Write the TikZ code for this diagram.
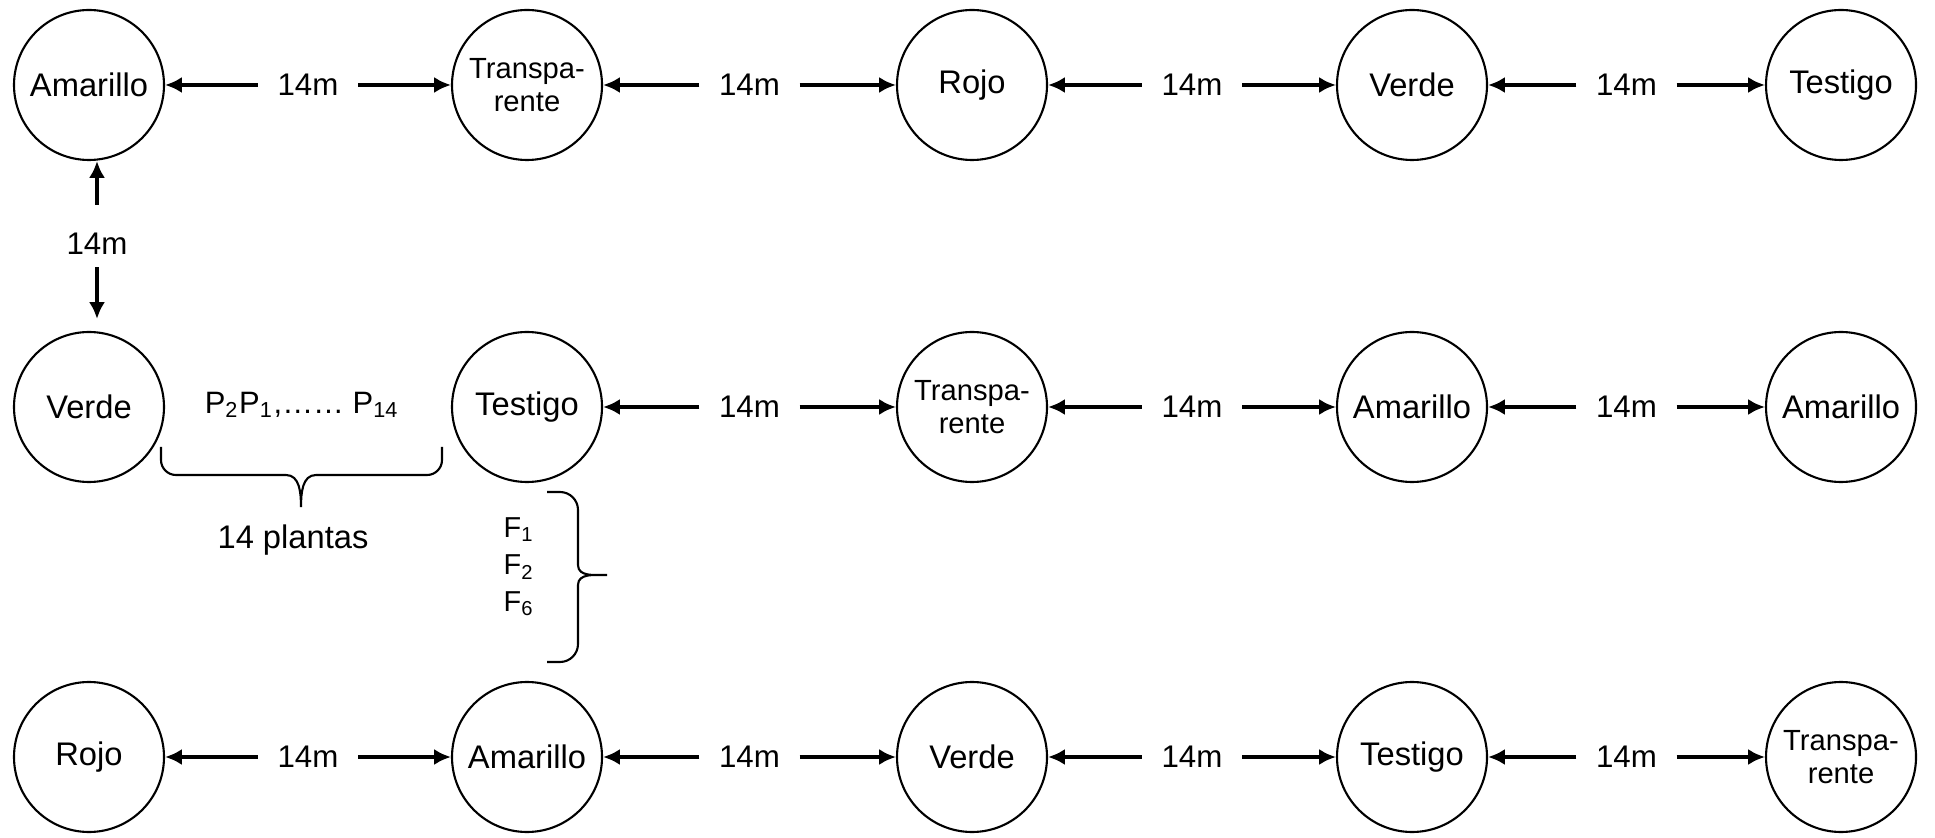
\documentclass[tikz,border=0pt]{standalone}
\usepackage{fontspec}
\setmainfont{Liberation Sans}
\usetikzlibrary{arrows.meta,positioning}

\begin{document}
\begin{tikzpicture}[
  plot/.style={draw, circle, line width=0.6pt, minimum size=1.5cm,
    inner sep=0pt, align=center, font=\fontsize{9.3}{10}\selectfont},
  plotsmall/.style={plot, font=\fontsize{8.3}{9.4}\selectfont},
  dist/.style={inner xsep=0.19cm, inner ysep=0pt, font=\fontsize{8.9}{10}\selectfont},
  arrow/.style={-{Latex[length=4.8pt,width=4.6pt]}, line width=1.15pt},
  brace/.style={line width=0.6pt}
]
\useasboundingbox (0,0) rectangle (19.35,8.37);

% Row 1
\node[plot] (am1) at (0.89,7.52) {Amarillo};
\node[plotsmall] (tr1) at (5.27,7.52) {Transpa-\\rente};
\node[plot] (ro1) at (9.72,7.52) {Rojo};
\node[plot] (ve1) at (14.12,7.52) {Verde};
\node[plot] (te1) at (18.41,7.52) {Testigo};

% Row 2
\node[plot] (ve2) at (0.89,4.30) {Verde};
\node[plot] (te2) at (5.27,4.30) {Testigo};
\node[plotsmall] (tr2) at (9.72,4.30) {Transpa-\\rente};
\node[plot] (am2) at (14.12,4.30) {Amarillo};
\node[plot] (am3) at (18.41,4.30) {Amarillo};

% Row 3
\node[plot] (ro3) at (0.89,0.80) {Rojo};
\node[plot] (am4) at (5.27,0.80) {Amarillo};
\node[plot] (ve3) at (9.72,0.80) {Verde};
\node[plot] (te3) at (14.12,0.80) {Testigo};
\node[plotsmall] (tr3) at (18.41,0.80) {Transpa-\\rente};

% Distances
\path (am1) -- node[dist] (d11) {14m} (tr1);
\path (tr1) -- node[dist] (d12) {14m} (ro1);
\path (ro1) -- node[dist] (d13) {14m} (ve1);
\path (ve1) -- node[dist] (d14) {14m} (te1);
\path (te2) -- node[dist] (d22) {14m} (tr2);
\path (tr2) -- node[dist] (d23) {14m} (am2);
\path (am2) -- node[dist] (d24) {14m} (am3);
\path (ro3) -- node[dist] (d31) {14m} (am4);
\path (am4) -- node[dist] (d32) {14m} (ve3);
\path (ve3) -- node[dist] (d33) {14m} (te3);
\path (te3) -- node[dist] (d34) {14m} (tr3);

\foreach \d/\l/\r in {d11/am1/tr1, d12/tr1/ro1, d13/ro1/ve1, d14/ve1/te1,
    d22/te2/tr2, d23/tr2/am2, d24/am2/am3,
    d31/ro3/am4, d32/am4/ve3, d33/ve3/te3, d34/te3/tr3} {
  \draw[arrow] (\d) -- (\l);
  \draw[arrow] (\d) -- (\r);
}

% Vertical distance
\node[font=\fontsize{8.9}{10}\selectfont, inner sep=0pt] (dv) at (0.97,5.93) {14m};
\draw[arrow] ([yshift=0.28cm]dv.north) -- (dv.north |- am1.south);
\draw[arrow] ([yshift=-0.12cm]dv.south) -- ([yshift=0.12cm]dv.south |- ve2.north);

% Plants
\node[font=\fontsize{8.8}{10}\selectfont] (pl) at (3.02,4.32)
  {P\textsubscript{2}P\textsubscript{1},…… P\textsubscript{14}};
\draw[brace] (1.61,3.90) -- (1.61,3.77) to[out=-90,in=180] (1.76,3.62)
  -- (2.86,3.62) to[out=0,in=90] (3.01,3.30) to[out=90,in=180] (3.16,3.62)
  -- (4.27,3.62) to[out=0,in=-90] (4.42,3.77) -- (4.42,3.90);
\node[font=\fontsize{9.3}{10}\selectfont] (np) at (2.93,2.97) {14 plantas};

% Rows F
\node[align=left, font=\fontsize{8.2}{10.5}\selectfont] (fl) at (5.19,2.70)
  {F\textsubscript{1}\\F\textsubscript{2}\\F\textsubscript{6}};
\draw[brace] (5.47,3.45) -- (5.60,3.45) to[out=0,in=90] (5.78,3.27)
  -- (5.78,2.72) to[out=-90,in=180] (6.07,2.62) to[out=180,in=90] (5.78,2.52)
  -- (5.78,1.93) to[out=-90,in=0] (5.60,1.75) -- (5.47,1.75);

\end{tikzpicture}
\end{document}
